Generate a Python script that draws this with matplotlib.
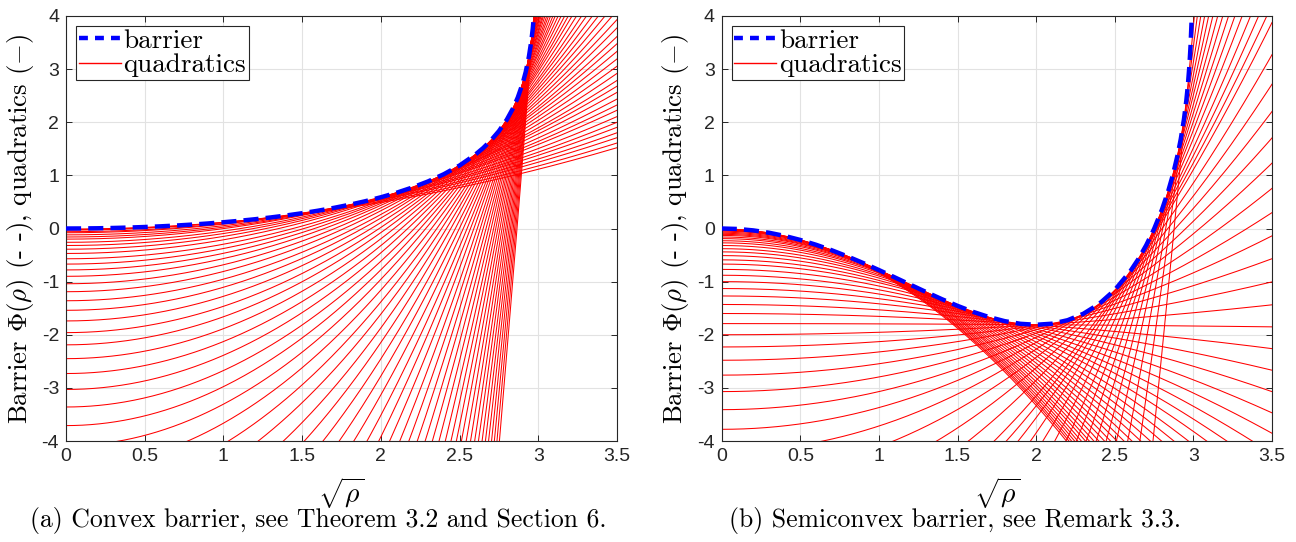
import numpy as np
import matplotlib.pyplot as plt
from matplotlib.lines import Line2D
from matplotlib.ticker import FormatStrFormatter

plt.rcParams['font.family'] = 'serif'
plt.rcParams['font.serif'] = ['cmr10']
plt.rcParams['mathtext.fontset'] = 'cm'
plt.rcParams['axes.unicode_minus'] = False

# barrier curves, sampled along sqrt(rho)
sqrt_rho = [0, 0.1, 0.2, 0.3, 0.4, 0.5, 0.6, 0.7, 0.8, 0.9, 1, 1.1, 1.2, 1.3, 1.4, 1.5,
            1.6, 1.7, 1.8, 1.9, 2, 2.1, 2.2, 2.3, 2.4, 2.5, 2.6, 2.65, 2.7, 2.75, 2.8,
            2.84, 2.87, 2.9, 2.92, 2.94, 2.955, 2.965, 2.975, 2.982, 2.988, 2.992, 2.995]
barrier_convex = [0, 0.001112, 0.004454, 0.01005, 0.01794, 0.02817, 0.04082, 0.05598,
                  0.07377, 0.09431, 0.1178, 0.1444, 0.1744, 0.208, 0.2456, 0.2877, 0.3347,
                  0.3873, 0.4463, 0.5127, 0.5878, 0.6733, 0.7717, 0.8862, 1.022, 1.186,
                  1.391, 1.515, 1.661, 1.834, 2.049, 2.265, 2.468, 2.725, 2.945, 3.229,
                  3.514, 3.764, 4.099, 4.426, 4.83, 5.235, 5.705]
barrier_semiconvex = [0, -0.008878, -0.03539, -0.07914, -0.1395, -0.2156, -0.3062, -0.41,
                      -0.5253, -0.6501, -0.7822, -0.9192, -1.058, -1.196, -1.33, -1.456,
                      -1.57, -1.667, -1.744, -1.794, -1.812, -1.792, -1.726, -1.605, -1.421,
                      -1.158, -0.7995, -0.5756, -0.3149, -0.00904, 0.3554, 0.7049, 1.015,
                      1.388, 1.688, 2.057, 2.407, 2.701, 3.081, 3.441, 3.873, 4.297, 4.781]

# quadratics q(x) = q0 + curv * x^2  (curv in 1e-3, q0 in 1e-2)
curv_convex = np.array([125, 133, 142, 152, 162, 173, 185, 198, 211, 225, 241, 257, 274, 293,
                        313, 334, 357, 381, 406, 434, 463, 495, 528, 564, 602, 643, 686, 733,
                        783, 835, 892, 952, 1017, 1086, 1159, 1238, 1322, 1411, 1507, 1609,
                        1717, 1834, 1958, 2090, 2232, 2383, 2544, 2717, 2901, 3097, 3307,
                        3530, 3769, 4025, 4297, 4588, 4899, 5230, 5584, 5962, 6366]) / 1000
q0_convex = np.array([-1, -2, -3, -6, -8, -12, -16, -20, -26, -32, -39, -47, -57, -67, -78,
                      -90, -104, -119, -136, -154, -174, -196, -219, -245, -273, -303, -336,
                      -371, -409, -450, -495, -542, -594, -649, -709, -773, -842, -916, -995,
                      -1080, -1172, -1270, -1375, -1488, -1609, -1738, -1877, -2025, -2184,
                      -2354, -2537, -2731, -2940, -3163, -3402, -3657, -3930, -4222, -4534,
                      -4868, -5225]) / 100
curv_semi = np.array([-830, -818, -804, -790, -774, -757, -738, -719, -698, -676, -653, -628,
                      -603, -576, -548, -518, -487, -455, -422, -387, -350, -313, -274, -233,
                      -191, -147, -101, -54, -5, 46, 100, 156, 214, 275, 340, 409, 482, 561,
                      647, 743, 852, 915, 987, 1073, 1179, 1297, 1430, 1577, 1747, 1958, 2214,
                      2552, 3058, 3850, 5288]) / 1000
q0_semi = np.array([-1, -1, -2, -2, -3, -4, -5, -7, -9, -11, -13, -16, -19, -23, -27, -32,
                    -38, -44, -51, -59, -67, -77, -88, -100, -113, -127, -143, -160, -179,
                    -200, -223, -248, -276, -307, -341, -378, -420, -467, -521, -583, -656,
                    -700, -751, -814, -892, -982, -1086, -1202, -1339, -1511, -1724, -2008,
                    -2439, -3123, -4379]) / 100

captions = ['(a) Convex barrier, see Theorem 3.2 and Section 6.',
            '(b) Semiconvex barrier, see Remark 3.3.']

xs = np.linspace(0, 3.5, 600)

W, H = 1296, 542
fig = plt.figure(figsize=(W / 100, H / 100), dpi=100)
ax_a = fig.add_axes([66 / W, 1 - 441 / H, 551 / W, 425 / H])
ax_b = fig.add_axes([721.7 / W, 1 - 441 / H, 550.3 / W, 425 / H])

panels = [(ax_a, q0_convex, curv_convex, barrier_convex),
          (ax_b, q0_semi, curv_semi, barrier_semiconvex)]

for ax, q0s, curvs, barrier in panels:
    for q0, c in zip(q0s, curvs):
        ax.plot(xs, q0 + c * xs**2, color='red', lw=0.75, zorder=2)
    ax.plot(sqrt_rho, barrier, color='blue', lw=3.2, dashes=(3.4, 1.6), zorder=3)

    ax.set_xlim(0, 3.5)
    ax.set_ylim(-4, 4)
    ax.set_xticks(np.arange(0, 3.51, 0.5))
    ax.set_yticks(np.arange(-4, 4.1, 1))
    ax.xaxis.set_major_formatter(FormatStrFormatter('%g'))
    ax.yaxis.set_major_formatter(FormatStrFormatter('%g'))
    ax.grid(True, color='#e2e2e2', lw=0.8)
    ax.set_axisbelow(True)
    for s in ax.spines.values():
        s.set_color('#262626')
        s.set_linewidth(0.8)
    ax.tick_params(direction='in', top=True, right=True, length=4, width=0.7,
                   color='#262626', labelcolor='#262626', labelsize=14,
                   labelfontfamily='Liberation Sans', pad=5)

    ax.set_ylabel(r'Barrier $\Phi(\rho)$ (- -), quadratics ($-$)', fontsize=19.3)
    ax.yaxis.set_label_coords(-0.055, 0.5)
    ax.set_xlabel(r'$\sqrt{\rho}$', fontsize=20)
    ax.xaxis.set_label_coords(0.5, -0.08)

    handles = [Line2D([], [], color='blue', lw=3.2, dashes=(2.0, 1.6)),
               Line2D([], [], color='#ff0000', lw=1.0)]
    leg = ax.legend(handles, ['barrier', 'quadratics'], loc='upper left',
                    bbox_to_anchor=(0.018, 0.976), borderaxespad=0, fancybox=False,
                    framealpha=1, edgecolor='#262626', prop={'size': 19.5},
                    handlelength=1.55, handletextpad=0.1, labelspacing=0.02,
                    borderpad=0.1)
    leg.get_frame().set_linewidth(0.8)

fig.text(318 / W, 1 - 521 / H, captions[0], ha='center', va='center', fontsize=18.5)
fig.text(955 / W, 1 - 521 / H, captions[1], ha='center', va='center', fontsize=18.5)

fig.savefig('out.png', dpi=100)
